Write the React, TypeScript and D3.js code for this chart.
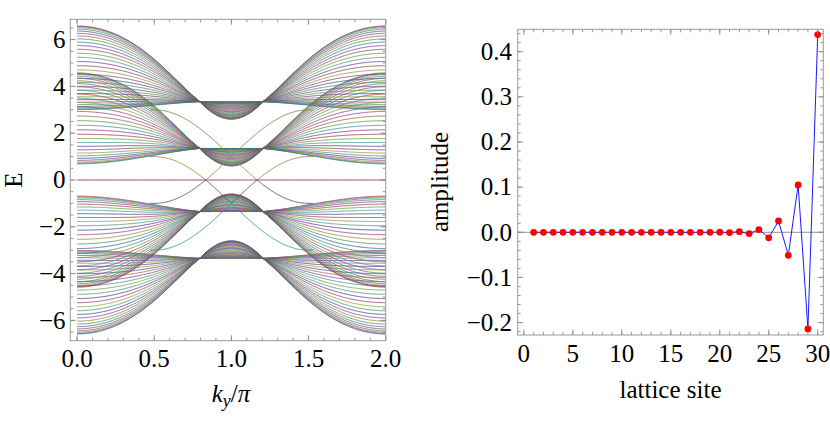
import React from 'react';
import * as d3 from 'd3';

// ---------- Right panel data (edge-state amplitude on each lattice site) ----------
const latticeSites = [1,2,3,4,5,6,7,8,9,10,11,12,13,14,15,16,17,18,19,20,21,22,23,24,25,26,27,28,29,30];
const amplitude = [0,0,0,0,0,0,0,0,0,0,0,0,0,0,0,0,0,0,-0.0001,0.0003,-0.0007,0.0014,-0.0029,0.006,-0.0122,0.025,-0.051,0.105,-0.214,0.438];
const siteTicks = [0,5,10,15,20,25,30];
const ampTicks = [-0.2,-0.1,0,0.1,0.2,0.3,0.4];

// ---------- Left panel data (ribbon band structure) ----------
const kyTicks = [0,0.5,1,1.5,2];
const energyTicks = [-6,-4,-2,0,2,4,6];
const pinchEnergy = [3.35, 1.35];       // upper / lower band group energy where all modes meet
const lowerEdgeDrop = [0.35, 0.67];     // how far each group's lower edge sinks at ky = 0
const pinchKy = [0.795];                // ky/pi of the pinch point
const widthGain = [2.87, 0.33, 3.745];  // gain, saturation, gain inside the lens
const transverseModes = [30];
const edgeOffset = [1];
const edgeSwing = [2];
const edgeKyRange = [0.47, 1.53];

const hsv = (h: number, s: number, v: number) => {
  const i = Math.floor(h * 6), f = h * 6 - i;
  const p = v * (1 - s), q = v * (1 - f * s), t = v * (1 - (1 - f) * s);
  const m = [[v,t,p],[q,v,p],[p,v,t],[p,q,v],[t,p,v],[v,p,q]][((i % 6) + 6) % 6];
  return d3.rgb(m[0]*255, m[1]*255, m[2]*255).formatHex();
};
const mmaColor = (k: number) => hsv((((0.67 + 0.236068 * (k - 1)) % 1) + 1) % 1, 0.6, 0.6);

const cosPinch = Math.cos(Math.PI * pinchKy[0]);
const h0 = 1 - cosPinch;
function bandEnergy(b: number, c: number, ky: number) {
  const h = Math.cos(Math.PI * ky) - cosPinch;
  const w = h > 0 ? widthGain[0] * h / (1 + widthGain[1] * h) : widthGain[2] * h;
  const d = h > 0 ? lowerEdgeDrop[b] * h / h0 : 0;
  return pinchEnergy[b] + w * (1 + c) / 2 - d * (1 - c) / 2;
}

const kySamples = d3.range(0, 2.0001, 0.005);

function FrameTicks({ x, y, xMajor, xMinor, yMajor, yMinor }: any) {
  const [x0, x1] = x.range();
  const [y0, y1] = y.range();
  const out: any[] = [];
  const col = '#8a8a8a';
  const add = (key: string, a: number, b: number, c: number, d: number) =>
    out.push(<line key={key} x1={a} y1={b} x2={c} y2={d} stroke={col} strokeWidth={0.9} />);
  xMinor.forEach((v: number, i: number) => { const p = x(v); add('xn' + i, p, y0, p, y0 - 3); add('xnt' + i, p, y1, p, y1 + 3); });
  xMajor.forEach((v: number, i: number) => { const p = x(v); add('xm' + i, p, y0, p, y0 - 5.5); add('xmt' + i, p, y1, p, y1 + 5.5); });
  yMinor.forEach((v: number, i: number) => { const p = y(v); add('yn' + i, x0, p, x0 + 3, p); add('ynr' + i, x1, p, x1 - 3, p); });
  yMajor.forEach((v: number, i: number) => { const p = y(v); add('ym' + i, x0, p, x0 + 5.5, p); add('ymr' + i, x1, p, x1 - 5.5, p); });
  out.push(<rect key="frame" x={x0} y={y1} width={x1 - x0} height={y0 - y1} fill="none" stroke="#999" strokeWidth={1} />);
  return <g>{out}</g>;
}

export default function App() {
  const font = "'Liberation Serif'";
  const fs = 25;
  const ts: React.CSSProperties = { fontFamily: font, fontSize: fs };

  // left panel scales
  const lx = d3.scaleLinear().domain([-0.044, 2]).range([70.3, 385.7]);
  const ly = d3.scaleLinear().domain([-6.868, 6.868]).range([340.7, 19.3]);
  // right panel scales
  const rx = d3.scaleLinear().domain([-0.63, 30.57]).range([517.7, 823.3]);
  const ry = d3.scaleLinear().domain([-0.2275, 0.4496]).range([335, 29.3]);

  const line = d3.line<[number, number]>().x(d => lx(d[0])).y(d => ly(d[1]));

  // bulk lines
  const bulk: { e0: number; pts: [number, number][] }[] = [];
  const N = transverseModes[0];
  for (let b = 0; b < 2; b++) {
    for (let n = 1; n <= N; n++) {
      const c = Math.cos((n * Math.PI) / (N + 1));
      for (const s of [1, -1]) {
        const pts = kySamples.map(k => [k, s * bandEnergy(b, c, k)] as [number, number]);
        bulk.push({ e0: pts[0][1], pts });
      }
    }
  }
  bulk.sort((a, b) => b.e0 - a.e0);

  // edge states
  const edgeColors = { green: mmaColor(12), olive: mmaColor(3), blue: mmaColor(5), teal: mmaColor(13) };
  const cat = (e: number) => (e > 1 ? 'green' : e > 0 ? 'olive' : e > -1 ? 'blue' : 'teal');
  const edgeKy = kySamples.filter(k => k >= edgeKyRange[0] - 1e-9 && k <= edgeKyRange[1] + 1e-9);
  const edgeSegs: { col: string; pts: [number, number][] }[] = [];
  for (const sa of [1, -1]) {
    for (const sb of [1, -1]) {
      const pts = edgeKy.map(k => [k, sa * edgeOffset[0] + sb * edgeSwing[0] * Math.sin(Math.PI * k)] as [number, number]);
      let cur: [number, number][] = [pts[0]];
      let cc = cat(pts[0][1]);
      for (let i = 1; i < pts.length; i++) {
        const ci = cat(pts[i][1]);
        if (ci !== cc) {
          cur.push(pts[i]);
          edgeSegs.push({ col: (edgeColors as any)[cc], pts: cur });
          cur = [pts[i - 1], pts[i]];
          cc = ci;
        } else cur.push(pts[i]);
      }
      edgeSegs.push({ col: (edgeColors as any)[cc], pts: cur });
    }
  }

  const rline = d3.line<number>().x((_, i) => rx(latticeSites[i])).y(d => ry(d));

  const lMinorX = d3.range(0, 2.0001, 0.1);
  const lMinorY = d3.range(-6.5, 6.51, 0.5);
  const rMinorX = d3.range(0, 30.5, 1);
  const rMinorY = d3.range(-0.22, 0.441, 0.02);

  return (
    <svg width={830} height={433} style={{ position: 'absolute', left: 0, top: 0, background: '#fff' }}>
      {/* ---------- left panel ---------- */}
      <defs>
        <clipPath id="lclip"><rect x={70.3} y={19.3} width={315.4} height={321.4} /></clipPath>
      </defs>
      <g clipPath="url(#lclip)">
        {bulk.map((l, i) => (
          <path key={'b' + i} d={line(l.pts) || ''} fill="none" stroke={mmaColor(i + 1)} strokeWidth={0.8} />
        ))}
        {edgeSegs.map((s, i) => (
          <path key={'e' + i} d={line(s.pts) || ''} fill="none" stroke={s.col} strokeWidth={0.9} />
        ))}
        <path d={line(kySamples.map(k => [k, 0] as [number, number])) || ''} fill="none" stroke={mmaColor(2)} strokeWidth={1} />
      </g>
      <FrameTicks x={lx} y={ly} xMajor={kyTicks} xMinor={lMinorX} yMajor={energyTicks} yMinor={lMinorY} />
      {energyTicks.map(v => (
        <text key={'ey' + v} x={65.5} y={ly(v)} dy="0.33em" textAnchor="end" style={ts}>
          {v < 0 ? '\u2212' + Math.abs(v) : String(v)}
        </text>
      ))}
      {kyTicks.map(v => (
        <text key={'kx' + v} x={lx(v)} y={366.5} textAnchor="middle" style={ts}>{v.toFixed(1)}</text>
      ))}
      <text transform="translate(21.5,180) rotate(-90)" textAnchor="middle" style={ts}>E</text>
      <text x={231} y={402} textAnchor="middle" style={ts}>
        <tspan fontStyle="italic">k</tspan>
        <tspan fontStyle="italic" style={{ fontSize: 18 }} dy={5}>y</tspan>
        <tspan dy={-5}>/</tspan>
        <tspan fontStyle="italic">π</tspan>
      </text>

      {/* ---------- right panel ---------- */}
      <line x1={517.7} x2={823.3} y1={ry(0)} y2={ry(0)} stroke="#777" strokeWidth={0.8} />
      <path d={rline(amplitude) || ''} fill="none" stroke="#1a1aff" strokeWidth={1} />
      {amplitude.map((v, i) => (
        <circle key={'p' + i} cx={rx(latticeSites[i])} cy={ry(v)} r={3.4} fill="#ff0000" />
      ))}
      <FrameTicks x={rx} y={ry} xMajor={siteTicks} xMinor={rMinorX} yMajor={ampTicks} yMinor={rMinorY} />
      {ampTicks.map(v => (
        <text key={'ay' + v} x={512} y={ry(v)} dy="0.33em" textAnchor="end" style={ts}>
          {v < 0 ? '\u2212' + Math.abs(v).toFixed(1) : v.toFixed(1)}
        </text>
      ))}
      {siteTicks.map(v => (
        <text key={'sx' + v} x={rx(v)} y={361.7} textAnchor="middle" style={ts}>{v}</text>
      ))}
      <text transform="translate(448,182) rotate(-90)" textAnchor="middle" style={ts}>amplitude</text>
      <text x={670.5} y={398} textAnchor="middle" style={ts}>lattice site</text>
    </svg>
  );
}
